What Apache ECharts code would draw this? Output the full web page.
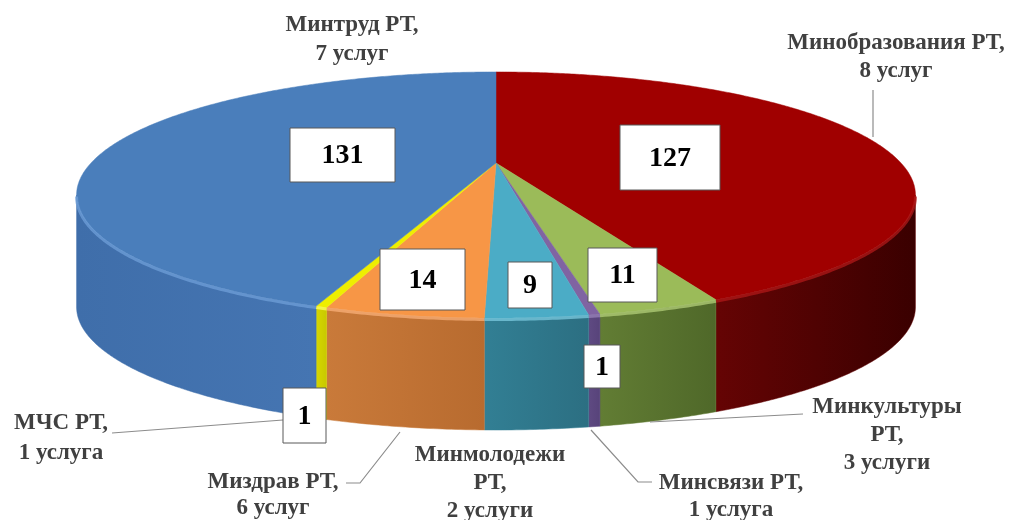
<!DOCTYPE html>
<html>
<head>
<meta charset="utf-8">
<script src="https://cdn.jsdelivr.net/npm/echarts@6/dist/echarts.min.js"></script>
<style>html,body{margin:0;padding:0;background:#fff}#c{width:1015px;height:520px}</style>
</head>
<body>
<div id="c"></div>
<script>
// ---- data ----
const categories = ['Минобразования РТ', 'Минкультуры РТ', 'Минсвязи РТ', 'Минмолодежи РТ', 'Миздрав РТ', 'МЧС РТ', 'Минтруд РТ'];
const counts = [127, 11, 1, 9, 14, 1, 131];
const labelTexts = [
  'Минобразования РТ,\n8 услуг',
  'Минкультуры\nРТ,\n3 услуги',
  'Минсвязи РТ,\n1 услуга',
  'Минмолодежи\nРТ,\n2 услуги',
  'Миздрав РТ,\n6 услуг',
  'МЧС РТ,\n1 услуга',
  'Минтруд РТ,\n7 услуг'
];

// ---- styles / layout ----
const topColors = ['#a00000', '#9bbb59', '#8064a2', '#4bacc6', '#f79646', '#eeee00', '#4a7ebb'];
const rimColors = ['#b01818', '#b3cf7a', '#9a84bb', '#7ccbe0', '#f9b07a', '#ffff66', '#6f9fd8'];
const wallColors = [
  ['#650404', '#3a0000'],
  ['#627d34', '#4f6829'],
  ['#5f4a82', '#57437a'],
  ['#327f94', '#2c6f82'],
  ['#c97a3a', '#b86b2f'],
  ['#d6d600', '#c8c800'],
  ['#3f6eaa', '#4575b2']
];
const valueBoxes = [
  [620, 125, 100, 65], [588, 248, 69, 54], [584, 345, 36, 43], [508, 262, 44, 46],
  [380, 249, 85, 61], [283, 388, 43, 55], [290, 128, 105, 54]
];
const catPos = [
  [896, 43, 28], [887, 407, 28], [731, 483, 27], [490, 455, 28],
  [273, 482, 26], [61, 423, 30], [352, 25, 29]
];
const leaders = [
  [[873, 90], [873, 137]],
  [[650, 422], [803, 414]],
  [[591, 430], [638, 482], [652, 482]],
  null,
  [[400, 432], [360, 483], [346, 483]],
  [[283, 420], [112, 433]],
  null
];
const CX = 496, CY = 163, A = 405, B = 114.7, K = 0.26, H = 112;
const total = counts.reduce((a, b) => a + b, 0);
const starts = [];
{ let acc = 0; counts.forEach(v => { starts.push(acc / total * 360); acc += v; }); }
const W0 = Math.acos(-K) * 180 / Math.PI, W1 = 360 - W0;

function proj(deg, dy) {
  const p = deg * Math.PI / 180;
  const s = 1 / (1 + K * Math.cos(p));
  return [CX + A * Math.sin(p) * s, CY - B * Math.cos(p) * s + (dy || 0)];
}
function arc(a0, a1, dy) {
  const pts = [];
  const n = Math.max(2, Math.ceil((a1 - a0) / 0.5));
  for (let i = 0; i <= n; i++) pts.push(proj(a0 + (a1 - a0) * i / n, dy));
  return pts;
}

const chart = echarts.init(document.getElementById('c'), null, { renderer: 'canvas' });
const font = '"Liberation Serif", "Times New Roman", serif';

chart.setOption({
  backgroundColor: '#ffffff',
  animation: false,
  series: [{
    type: 'custom',
    coordinateSystem: 'none',
    data: counts.map((v, i) => ({ value: v, name: categories[i] })),
    renderItem: function (params, api) {
      const i = params.dataIndex;
      const v = api.value(0);
      const a0 = starts[i], a1 = a0 + v / total * 360;
      const children = [];
      // wall
      const w0 = Math.max(a0, W0), w1 = Math.min(a1, W1);
      if (w1 > w0) {
        const topArc = arc(w0, w1, 0);
        const botArc = arc(w0, w1, H).reverse();
        children.push({
          type: 'polygon', z2: 1,
          shape: { points: topArc.concat(botArc) },
          style: {
            fill: { type: 'linear', x: 0, y: 0, x2: 1, y2: 0, colorStops: [{ offset: 0, color: wallColors[i][0] }, { offset: 1, color: wallColors[i][1] }] },
            stroke: wallColors[i][0], lineWidth: 0.5
          }
        });
      }
      // top face
      children.push({
        type: 'polygon', z2: 2,
        shape: { points: [[CX, CY]].concat(arc(a0, a1, 0)) },
        style: { fill: topColors[i], stroke: topColors[i], lineWidth: 0.5 }
      });
      if (w1 > w0) {
        children.push({
          type: 'polyline', z2: 3,
          shape: { points: arc(w0, w1, 1.5) },
          style: { stroke: rimColors[i], lineWidth: 3, opacity: 0.75, fill: null }
        });
      }
      // value box
      const b = valueBoxes[i];
      children.push({
        type: 'rect', z2: 10,
        shape: { x: b[0], y: b[1], width: b[2], height: b[3] },
        style: { fill: '#ffffff', stroke: '#595959', lineWidth: 1 }
      });
      children.push({
        type: 'text', z2: 11,
        x: b[0] + b[2] / 2, y: b[1] + b[3] / 2 + 1,
        style: { text: String(v), font: 'bold 28px ' + font, fill: '#000000', align: 'center', verticalAlign: 'middle' }
      });
      // leader line
      if (leaders[i]) {
        children.push({
          type: 'polyline', z2: 9,
          shape: { points: leaders[i] },
          style: { stroke: '#8c8c8c', lineWidth: 1.2, fill: null }
        });
      }
      // category label
      const c = catPos[i];
      children.push({
        type: 'text', z2: 11,
        x: c[0], y: c[1] - c[2] / 2,
        style: { text: labelTexts[i], font: 'bold 23px ' + font, fill: '#404040', align: 'center', verticalAlign: 'top', lineHeight: c[2] }
      });
      return { type: 'group', children: children };
    }
  }]
});
</script>
</body>
</html>
